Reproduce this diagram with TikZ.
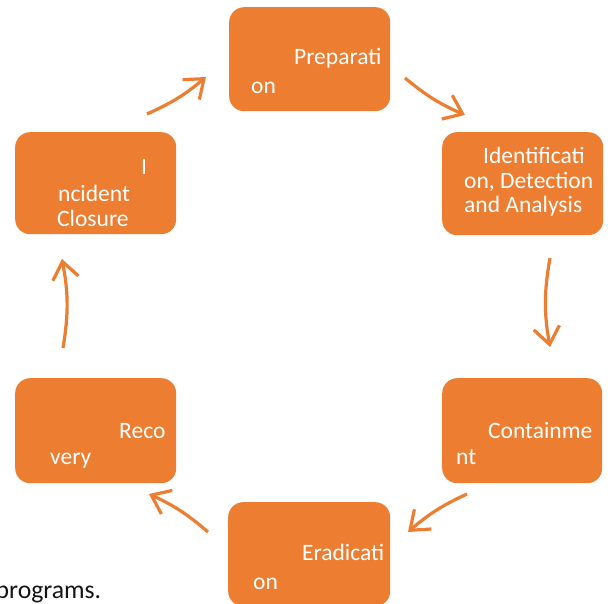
\documentclass[tikz,border=0pt]{standalone}
\usepackage{fontspec}
\setmainfont{Carlito}
\usetikzlibrary{arrows.meta}
\definecolor{accent}{RGB}{237,125,49}
\definecolor{bodytext}{RGB}{20,20,20}

\begin{document}
\begin{tikzpicture}[x=1pt,y=-1pt,
  stagebox/.style={fill=accent, rounded corners=15pt, anchor=north west, inner sep=0pt},
  stagetext/.style={text=white, font=\fontsize{23.5}{27}\selectfont, anchor=base west, inner sep=0pt},
  flow/.style={draw=accent, line width=3.2pt, -{Straight Barb[length=17pt,width=26pt]}}]
\useasboundingbox (0,0) rectangle (608,604);
\clip (0,0) rectangle (608,604);

% stage boxes
\node[stagebox, minimum width=161pt, minimum height=104pt] (prep)    at (229,7)   {};
\node[stagebox, minimum width=161pt, minimum height=103pt] (ident)   at (442,132) {};
\node[stagebox, minimum width=161pt, minimum height=102pt] (close)   at (15,132)  {};
\node[stagebox, minimum width=161pt, minimum height=105pt] (recov)   at (15,378)  {};
\node[stagebox, minimum width=160pt, minimum height=105pt] (contain) at (442,378) {};
\node[stagebox, minimum width=162pt, minimum height=104pt] (erad)    at (228,502) {};

% stage labels, wrapped line by line
\node[stagetext] (prepA)    at (294,65)  {Preparati};
\node[stagetext] (prepB)    at (251,94)  {on};
\node[stagetext] (identA)   at (483,164) {Identificati};
\node[stagetext] (identB)   at (464,189) {on, Detection};
\node[stagetext] (identC)   at (464,213) {and Analysis};
\node[stagetext] (closeA)   at (141,175) {I};
\node[stagetext] (closeB)   at (58,202)  {ncident};
\node[stagetext] (closeC)   at (57,227)  {Closure};
\node[stagetext] (recovA)   at (119,438) {Reco};
\node[stagetext] (recovB)   at (50,464)  {very};
\node[stagetext] (containA) at (488,438) {Containme};
\node[stagetext] (containB) at (456,464) {nt};
\node[stagetext] (eradA)    at (302,560) {Eradicati};
\node[stagetext] (eradB)    at (253,589) {on};

% running text below the cycle
\node[text=bodytext, font=\fontsize{25.7}{30}\selectfont, anchor=base west, inner sep=0pt]
  (tailtext) at (-4.5,598) {programs.};

% arrow end points on the cycle
\coordinate (a1s) at (147,114); \coordinate (a1e) at (206,77);
\coordinate (a2s) at (405,78);  \coordinate (a2e) at (465,115);
\coordinate (a3s) at (550,258); \coordinate (a3e) at (550,347);
\coordinate (a4s) at (467,494); \coordinate (a4e) at (408,532);
\coordinate (a5s) at (208,532); \coordinate (a5e) at (149,494);
\coordinate (a6s) at (63,348);  \coordinate (a6e) at (62,259);

% clockwise flow
\draw[flow] (a1s) to[bend right=8]  (a1e);
\draw[flow] (a2s) to[bend right=8]  (a2e);
\draw[flow] (a3s) to[bend right=10] (a3e);
\draw[flow] (a4s) to[bend right=8]  (a4e);
\draw[flow] (a5s) to[bend right=8]  (a5e);
\draw[flow] (a6s) to[bend right=10] (a6e);
\end{tikzpicture}
\end{document}
